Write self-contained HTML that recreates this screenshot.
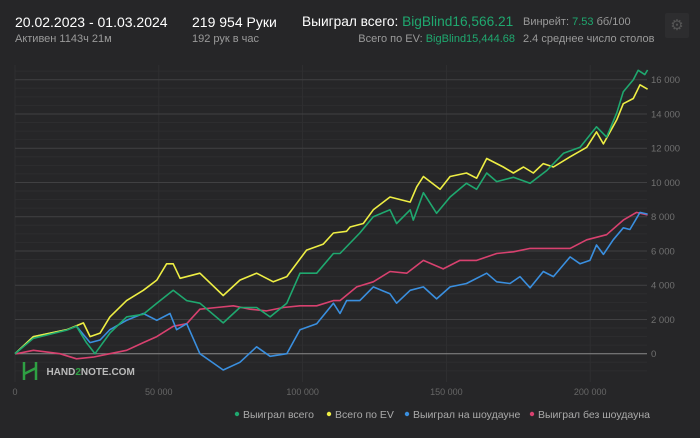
<!DOCTYPE html>
<html><head><meta charset="utf-8">
<style>
body{margin:0;background:#262628;width:700px;height:438px;overflow:hidden;font-family:"Liberation Sans","DejaVu Sans",sans-serif;}
.t{position:absolute;white-space:nowrap;}
</style></head>
<body>
<div style="position:absolute;left:0;top:0;width:700px;height:58px;">
<div class="t" style="left:15px;top:14px;font-size:14px;color:#fff;">20.02.2023 - 01.03.2024</div>
<div class="t" style="left:15px;top:33px;font-size:11px;color:#9a9a9a;">Активен 1143ч 21м</div>
<div class="t" style="left:192px;top:14px;font-size:14px;color:#fff;">219 954 Руки</div>
<div class="t" style="left:192px;top:33px;font-size:11px;color:#9a9a9a;">192 рук в час</div>
<div class="t" style="left:302px;top:14px;font-size:13.7px;color:#fff;">Выиграл всего: <span style="color:#1fa86f">BigBlind16,566.21</span></div>
<div class="t" style="right:185px;top:33px;font-size:11px;color:#9a9a9a;">Всего по EV: <span style="color:#1fa86f">BigBlind15,444.68</span></div>
<div class="t" style="left:523px;top:16px;font-size:11px;color:#9a9a9a;">Винрейт: <span style="color:#1fa86f">7.53</span> бб/100</div>
<div class="t" style="left:523px;top:33px;font-size:11px;color:#9a9a9a;">2.4 среднее число столов</div>
<div style="position:absolute;left:665px;top:13px;width:24px;height:25px;background:#2d2d2f;border-radius:2px;color:#555;font-size:15px;text-align:center;line-height:25px;">⚙</div>
</div>
<svg id="chart" width="700" height="438" style="position:absolute;left:0;top:0;"></svg>
<div class="t" style="left:22px;top:360px;">
<svg width="16" height="22" style="vertical-align:middle"><path d="M2 2v18M14 2v18M2 14L14 8" stroke="#2ea043" stroke-width="2.5" fill="none"/></svg>
<span style="font-size:10px;font-weight:bold;color:#bbb;margin-left:4px;">HAND<span style="color:#2ea043">2</span>NOTE.COM</span></div>
<script>
const xTicks=[0,50000,100000,150000,200000];
const yTicks=[0,2000,4000,6000,8000,10000,12000,14000,16000];
const greenHands=[0,6.4,18.0,21.4,24.9,27.8,33.0,38.8,44.6,49.3,55.0,59.7,64.3,72.4,78.2,84.0,88.7,94.5,99.1,104.9,110.7,113.0,119.9,124.6,130.4,132.7,137.4,138.5,142.0,146.6,151.3,157.0,160.5,164.0,167.5,173.3,179.1,184.9,190.7,196.5,202.2,205.7,209.2,211.5,215.0,216.7,219.0,219.95];
const greenVals=[0,900,1380,1600,630,0,1200,2150,2300,2950,3700,3100,2950,1800,2700,2700,2150,2950,4700,4700,5850,5850,7050,8000,8400,7600,8400,7800,9400,8200,9150,9950,9600,10550,10050,10300,9950,10700,11700,12050,13250,12650,14050,15300,16000,16550,16300,16566];
const yellowHands=[0,6.4,18.0,23.8,26.1,29.6,33.0,38.8,44.6,49.3,52.7,55.0,57.4,64.3,72.4,78.2,84.0,89.8,94.5,101.4,107.2,110.7,115.3,116.5,121.1,124.6,130.4,137.4,139.7,142.0,147.8,151.3,157.0,160.5,164.0,169.8,173.3,176.8,180.2,183.7,187.2,193.0,198.8,202.2,204.6,209.2,211.5,215.0,217.3,219.95];
const yellowVals=[0,1000,1400,1800,1000,1200,2150,3100,3700,4300,5250,5250,4400,4700,3400,4300,4700,4200,4500,6050,6400,7050,7150,7400,7600,8400,9150,8850,9750,10350,9600,10350,10550,10250,11400,10900,10550,10900,10550,11100,10900,11500,12050,12950,12250,13650,14600,14900,15700,15445];
const blueHands=[0,6.4,18.0,21.4,26.1,29.6,33.0,38.8,44.6,49.3,53.9,56.2,59.7,64.3,69.0,72.4,78.2,84.0,88.7,94.5,99.1,104.9,110.7,113.0,115.3,119.9,124.6,130.4,132.7,137.4,142.0,146.6,151.3,157.0,164.0,167.5,172.1,175.6,179.1,183.7,187.2,193.0,196.5,199.9,202.2,204.6,208.0,211.5,213.8,217.3,219.95];
const blueVals=[0,1000,1400,1600,650,800,1400,1950,2350,1950,2350,1400,1750,0,-550,-950,-500,400,-150,0,1400,1750,2950,2350,3100,3100,3900,3500,2950,3700,3900,3200,3900,4100,4700,4200,4100,4500,3850,4800,4500,5650,5250,5450,6350,5800,6650,7350,7250,8250,8150];
const pinkHands=[0,0.6,6.4,15.6,21.4,27.2,33.0,38.8,44.6,49.3,55.0,59.7,64.3,70.1,75.9,81.7,87.5,93.3,99.1,104.9,110.7,113.0,118.8,124.6,130.4,136.2,142.0,148.9,154.7,160.5,167.5,173.3,179.1,184.9,193.0,198.8,205.7,211.5,216.1,219.95];
const pinkVals=[0,0,200,0,-300,-200,0,200,650,1000,1600,1750,2600,2700,2800,2600,2500,2700,2800,2800,3100,3100,3900,4200,4800,4700,5450,4950,5450,5450,5850,5950,6150,6150,6150,6650,6950,7800,8250,8100];
const svg=document.getElementById('chart');
const NS='http://www.w3.org/2000/svg';
const X0=15,X1=647,Y0=353.7,PXK=2.876,PYK=17.125;
function sx(h){return X0+h/1000*PXK;}
function sy(v){return Y0-v/1000*PYK;}
function mk(tag,attrs){const e=document.createElementNS(NS,tag);for(const k in attrs)e.setAttribute(k,attrs[k]);svg.appendChild(e);return e;}
for(let v=-1000;v<=16500;v+=500){if(v%2000===0)continue;const l=mk('line',{x1:X0,x2:X1,y1:sy(v),y2:sy(v),stroke:'#2d2d2f','stroke-width':1});

}
xTicks.forEach(t=>{const l=mk('line',{x1:sx(t),x2:sx(t),y1:65,y2:382,stroke:'#2f2f31','stroke-width':1});


const tx=mk('text',{x:sx(t),y:395,fill:'#666','font-size':9,'text-anchor':'middle','font-family':'Liberation Sans'});


tx.textContent=t===0?'0':(t/1000)+' 000';});
yTicks.forEach(t=>{const l=mk('line',{x1:X0,x2:X1,y1:sy(t),y2:sy(t),stroke:t===0?'#8a8a8a':'#404042','stroke-width':1});


const tx=mk('text',{x:651,y:sy(t)+3.5,fill:'#707070','font-size':9.5,'font-family':'Liberation Sans'});


tx.textContent=t===0?'0':(t/1000)+' 000';});
function series(h,v,color,name){const d=h.map((x,i)=>(i?'L':'M')+sx(x*1000).toFixed(1)+' '+sy(v[i]).toFixed(1)).join(' ');
const p=mk('path',{d:d,fill:'none',stroke:color,'stroke-width':1.6,'stroke-linejoin':'round'});

}
series(pinkHands,pinkVals,'#d8416f','line-won-without-showdown');
series(blueHands,blueVals,'#3a8fdf','line-won-at-showdown');
series(yellowHands,yellowVals,'#eeee44','line-ev-total');
series(greenHands,greenVals,'#1fa86f','line-won-total');
const legend=[['Выиграл всего','#1fa86f',237],['Всего по EV','#eeee44',329],['Выиграл на шоудауне','#3a8fdf',407],['Выиграл без шоудауна','#d8416f',532]];
legend.forEach(([t,c,x])=>{const g=mk('g',{});


const ci=document.createElementNS(NS,'circle');ci.setAttribute('cx',x);ci.setAttribute('cy',414);ci.setAttribute('r',2.2);ci.setAttribute('fill',c);g.appendChild(ci);
const tx=document.createElementNS(NS,'text');tx.setAttribute('x',x+6);tx.setAttribute('y',418);tx.setAttribute('fill','#aaa');tx.setAttribute('font-size','10.5');tx.setAttribute('font-family','Liberation Sans');tx.textContent=t;g.appendChild(tx);});
</script>
</body></html>
